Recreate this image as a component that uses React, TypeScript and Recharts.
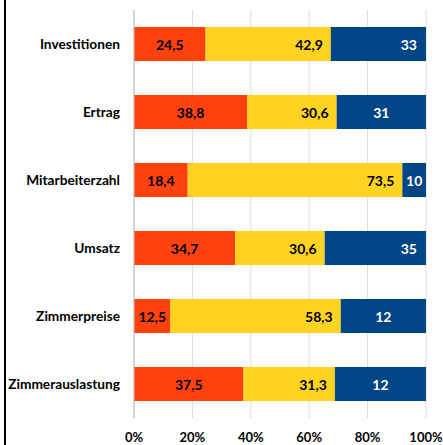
import React from 'react';
import { BarChart, Bar, XAxis, YAxis, CartesianGrid, LabelList } from 'recharts';

const categories = ['Investitionen', 'Ertrag', 'Mitarbeiterzahl', 'Umsatz', 'Zimmerpreise', 'Zimmerauslastung'];
const redValues = [24.5, 38.8, 18.4, 34.7, 12.5, 37.5];
const yellowValues = [42.9, 30.6, 73.5, 30.6, 58.3, 31.3];
const blueValues = [32.6, 30.6, 8.1, 34.7, 29.2, 31.2];
const blueLabels = ['33', '31', '10', '35', '12', '12'];
const xTicks = [0, 20, 40, 60, 80, 100];

const data = categories.map((name, i) => ({
  name,
  red: redValues[i],
  yellow: yellowValues[i],
  blue: blueValues[i],
  blueLabel: blueLabels[i],
}));

const FONT = 'Lato, "Noto Sans", sans-serif';
const BLUE_RIGHT_ALIGNED = ['Investitionen', 'Umsatz'];

const fmt = (v: any) => String(v).replace('.', ',');

function renderCenter(props: any) {
  const { x, y, width, height, value } = props;
  return (
    <text x={Number(x) + Number(width) / 2} y={Number(y) + Number(height) / 2} textAnchor="middle" dominantBaseline="central"
      fontFamily={FONT} fontWeight={700} fontSize={14} fill="#000">{fmt(value)}</text>
  );
}

function renderRight(props: any) {
  const { x, y, width, height, value } = props;
  return (
    <text x={Number(x) + Number(width) - 8} y={Number(y) + Number(height) / 2} textAnchor="end" dominantBaseline="central"
      fontFamily={FONT} fontWeight={700} fontSize={14} fill="#000">{fmt(value)}</text>
  );
}

function renderBlue(props: any) {
  const { x, y, width, height, value, index } = props;
  const right = BLUE_RIGHT_ALIGNED.includes(categories[index]);
  const cx = right ? Number(x) + Number(width) - 9 : Number(x) + Number(width) / 2;
  return (
    <text x={cx} y={Number(y) + Number(height) / 2} textAnchor={right ? 'end' : 'middle'}
      dominantBaseline="central" fontFamily={FONT} fontWeight={700} fontSize={14} fill="#fff">
      {value}
    </text>
  );
}

export default function App() {
  return (
    <div style={{ position: 'absolute', left: 0, top: 0, width: 443, height: 445, background: '#fff' }}>
      <div style={{ position: 'absolute', left: 4, top: 0, width: 2, height: 445, background: '#000' }} />
      <BarChart
        width={443}
        height={445}
        data={data}
        layout="vertical"
        margin={{ top: 10, right: 17, left: 0, bottom: 0 }}
        barSize={34}
      >
        <CartesianGrid horizontal={false} stroke="#d9d9d9" />
        <XAxis
          type="number"
          domain={[0, 100]}
          allowDataOverflow
          ticks={xTicks}
          tickFormatter={(v: number) => `${v}%`}
          axisLine={false}
          tickLine={false}
          tickSize={0}
          tickMargin={15}
          height={27}
          tick={{ fontFamily: FONT, fontWeight: 700, fontSize: 13, fill: '#000' }}
        />
        <YAxis
          type="category"
          dataKey="name"
          width={134}
          axisLine={{ stroke: '#bfbfbf' }}
          tickLine={false}
          tickSize={0}
          tickMargin={14}
          tick={{ fontFamily: FONT, fontWeight: 700, fontSize: 13.7, fill: '#000' }}
        />
        <Bar dataKey="red" stackId="a" fill="#ff420e" isAnimationActive={false}>
          <LabelList dataKey="red" content={renderCenter} />
        </Bar>
        <Bar dataKey="yellow" stackId="a" fill="#ffd320" isAnimationActive={false}>
          <LabelList dataKey="yellow" content={renderRight} />
        </Bar>
        <Bar dataKey="blue" stackId="a" fill="#004586" isAnimationActive={false}>
          <LabelList dataKey="blueLabel" content={renderBlue} />
        </Bar>
      </BarChart>
    </div>
  );
}
